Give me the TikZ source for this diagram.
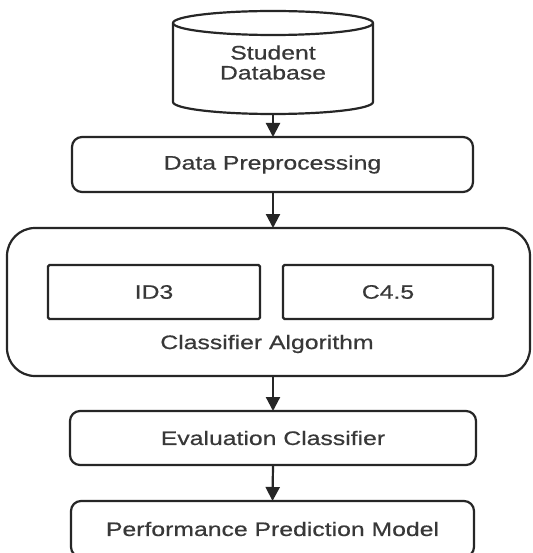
\documentclass[tikz,border=0pt]{standalone}
\usepackage{fontspec}
\setmainfont{Liberation Sans}[FakeStretch=1.27,FakeBold=0.6]
\usetikzlibrary{arrows.meta}
\definecolor{ln}{HTML}{262626}
\definecolor{tx}{HTML}{383838}
\begin{document}
\begin{tikzpicture}[x=1pt,y=-1pt,
  every node/.style={inner sep=0pt, outer sep=0pt, text=tx, font=\fontsize{19.5}{21}\selectfont},
  rbox/.style={draw=ln, line width=2.2pt, rounded corners=10pt},
  sbox/.style={draw=ln, line width=2.2pt, rounded corners=1.5pt},
  arr/.style={draw=ln, line width=2.2pt, -{Triangle[width=14pt,length=14pt]}}]
\useasboundingbox (0,0) rectangle (532,553);
\fill[white] (0,0) rectangle (532,553);
% cylinder
\node[minimum width=200pt, minimum height=79pt, align=center] (db) at (273,62.5) {Student\\[-1pt]Database};
\draw[ln, line width=2.2pt]
  (db.north west) -- (db.south west) arc[start angle=180, end angle=360, x radius=100pt, y radius=12pt]
  -- (db.north east) arc[start angle=0, end angle=180, x radius=100pt, y radius=12pt] -- cycle;
\draw[ln, line width=2.2pt] (db.north west) arc[start angle=180, end angle=360, x radius=100pt, y radius=12pt];
\coordinate (dbb) at ([yshift=-12pt]db.south);
% boxes
\node[rbox, minimum width=401pt, minimum height=55pt] (prep) at (272.5,164.5) {Data Preprocessing};
\node[rbox, rounded corners=28pt, minimum width=523pt, minimum height=148pt] (cls) at (268.5,302) {};
\node[sbox, minimum width=212pt, minimum height=54pt] (id3) at (154,292) {ID3};
\node[sbox, minimum width=210pt, minimum height=54pt] (c45) at (388,292) {C4.5};
\node (clab) at (267,344) {Classifier Algorithm};
\node[rbox, minimum width=406pt, minimum height=54pt] (eval) at (273,438) {Evaluation Classifier};
\node[rbox, minimum width=403pt, minimum height=56pt] (perf) at (272.5,529) {Performance Prediction Model};
% arrows
\draw[arr] (dbb) -- (dbb |- prep.north);
\draw[arr] (prep.south -| 273,0) -- (273,0 |- cls.north);
\draw[arr] (273,0 |- cls.south) -- (273,0 |- eval.north);
\draw[arr] (eval.south) -- (perf.north);
\end{tikzpicture}
\end{document}
